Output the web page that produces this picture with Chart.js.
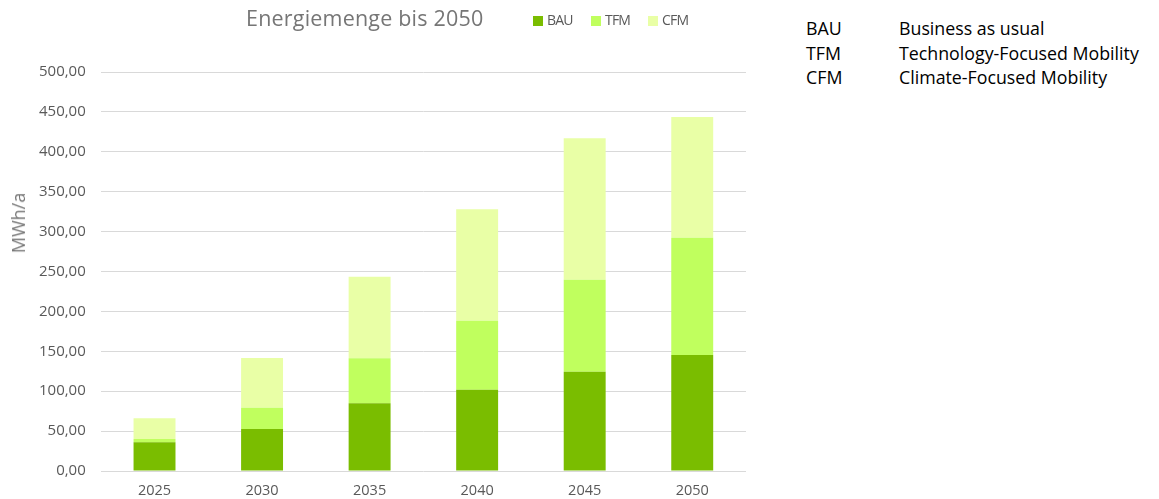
<!DOCTYPE html>
<html>
<head>
<meta charset="utf-8">
<script src="https://cdn.jsdelivr.net/npm/chart.js@4.4.0/dist/chart.umd.min.js"></script>
<style>
  html, body { margin: 0; padding: 0; background: #fff; width: 1159px; height: 499px; overflow: hidden; }
  #wrap { position: absolute; left: 0; top: 0; width: 760px; height: 499px; }
  #title { position: absolute; left: 246px; top: 3px; font-family: "Open Sans", sans-serif; font-size: 21.5px; color: #767676; white-space: nowrap; letter-spacing: 0.2px; }
  #legend { position: absolute; left: 533px; top: 10px; font-family: "Open Sans", sans-serif; font-size: 14px; color: #595959; white-space: nowrap; letter-spacing: -0.8px; }
  #legend span.item { position: absolute; top: 0; }
  #legend span.box { display: inline-block; width: 10px; height: 10px; vertical-align: -1px; margin-right: 4px; }
  #ytitle { position: absolute; left: 18px; top: 223px; transform: translate(-50%, -50%) rotate(-90deg); font-family: "Open Sans", sans-serif; font-size: 18px; color: #767676; white-space: nowrap; }
  #abbr { position: absolute; left: 806px; top: 16px; font-family: "Open Sans", sans-serif; font-size: 17.8px; color: #000; line-height: 24.5px; }
  #abbr div { white-space: nowrap; }
  #abbr span.k { display: inline-block; width: 93px; }
</style>
</head>
<body>
<div id="wrap"><canvas id="c"></canvas></div>
<div id="title">Energiemenge bis 2050</div>
<div id="legend"></div>
<div id="ytitle">MWh/a</div>
<div id="abbr"></div>
<script>
const categories = ["2025", "2030", "2035", "2040", "2045", "2050"];
const seriesNames = ["BAU", "TFM", "CFM"];
const bauValues = [36.0, 52.6, 84.8, 101.9, 124.5, 145.4];
const tfmValues = [4.0, 26.7, 56.4, 86.5, 115.3, 147.0];
const cfmValues = [26.0, 62.3, 102.3, 139.6, 177.2, 151.2];
const seriesColors = ["#7abd00", "#c0ff5e", "#e9ffa6"];
const abbreviations = ["BAU", "TFM", "CFM"];
const abbreviationMeanings = ["Business as usual", "Technology-Focused Mobility", "Climate-Focused Mobility"];
const yMin = 0, yMax = 500, yStep = 50;

const seriesValues = [bauValues, tfmValues, cfmValues];

// legend
const legendEl = document.getElementById('legend');
const legendX = [0, 58, 115];
seriesNames.forEach((n, i) => {
  const s = document.createElement('span');
  s.className = 'item';
  s.style.left = legendX[i] + 'px';
  s.innerHTML = '<span class="box" style="background:' + seriesColors[i] + '"></span>' + n;
  legendEl.appendChild(s);
});

// abbreviations list
const abbrEl = document.getElementById('abbr');
abbreviations.forEach((a, i) => {
  const d = document.createElement('div');
  d.innerHTML = '<span class="k">' + a + '</span>' + abbreviationMeanings[i];
  abbrEl.appendChild(d);
});

new Chart(document.getElementById('c'), {
  type: 'bar',
  data: {
    labels: categories,
    datasets: seriesNames.map((n, i) => ({
      label: n,
      data: seriesValues[i],
      backgroundColor: seriesColors[i],
      borderWidth: 0,
      categoryPercentage: 1.0,
      barPercentage: 0.39
    }))
  },
  options: {
    responsive: true,
    maintainAspectRatio: false,
    animation: false,
    layout: { padding: { top: 72, right: 14, left: 0, bottom: 0 } },
    plugins: { legend: { display: false }, title: { display: false }, tooltip: { enabled: false } },
    scales: {
      x: {
        stacked: true,
        grid: { display: false, drawTicks: false },
        border: { display: false },
        ticks: { color: '#595959', font: { family: 'Open Sans', size: 14.5 }, padding: 11 },
        afterFit: (s) => { s.height = 28; }
      },
      y: {
        stacked: true,
        min: yMin, max: yMax,
        grid: { color: '#d9d9d9', drawTicks: false, lineWidth: 1 },
        border: { display: false },
        ticks: {
          stepSize: yStep,
          color: '#595959',
          font: { family: 'Open Sans', size: 15 },
          padding: 15,
          callback: (v) => Number(v).toFixed(2).replace('.', ',')
        },
        afterFit: (s) => { s.width = 100.75; }
      }
    }
  }
});
</script>
</body>
</html>
